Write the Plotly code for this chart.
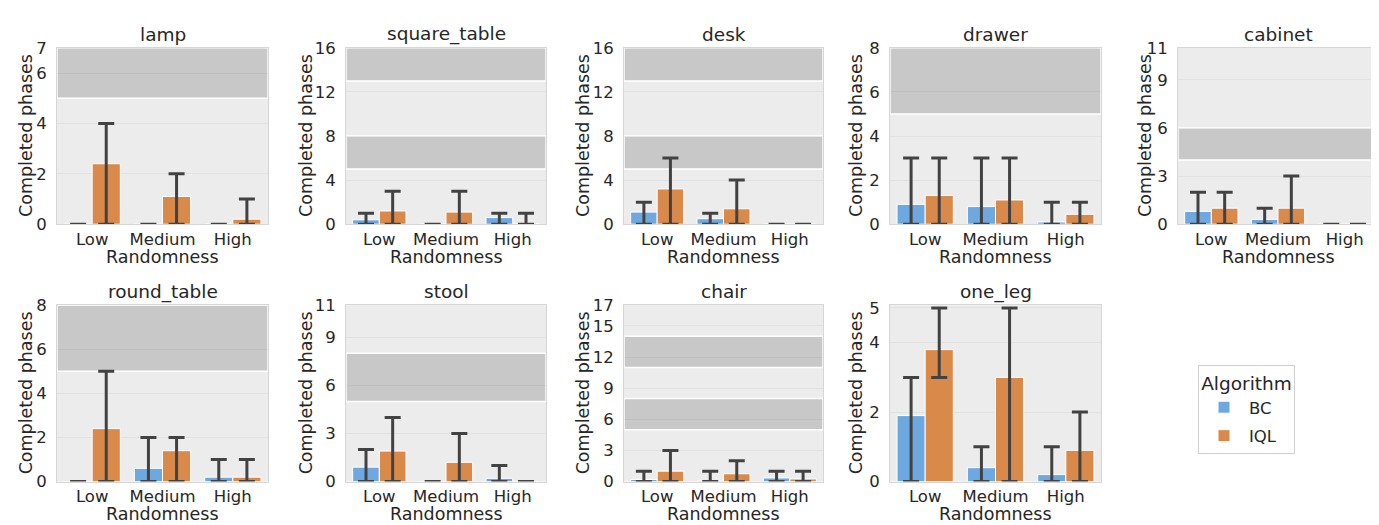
import plotly.graph_objects as go

W, H = 1379, 525

tasks = ["lamp", "square_table", "desk", "drawer", "cabinet",
         "round_table", "stool", "chair", "one_leg"]
levels = ["Low", "Medium", "High"]
algorithms = ["BC", "IQL"]

bc_mean = [[0, 0, 0], [0.4, 0, 0.6], [1.1, 0.5, 0], [0.9, 0.8, 0.1], [0.8, 0.3, 0],
           [0, 0.6, 0.2], [0.9, 0, 0.2], [0.2, 0.05, 0.35], [1.9, 0.4, 0.2]]
bc_min = [[0, 0, 0]] * 9
bc_max = [[0, 0, 0], [1, 0, 1], [2, 1, 0], [3, 3, 1], [2, 1, 0],
          [0, 2, 1], [2, 0, 1], [1, 1, 1], [3, 1, 1]]

iql_mean = [[2.4, 1.1, 0.2], [1.2, 1.1, 0.05], [3.2, 1.4, 0], [1.3, 1.1, 0.45], [1.0, 1.0, 0],
            [2.4, 1.4, 0.2], [1.9, 1.2, 0], [1.0, 0.75, 0.25], [3.8, 3.0, 0.9]]
iql_min = [[0, 0, 0], [0, 0, 0], [0, 0, 0], [0, 0, 0], [0, 0, 0],
           [0, 0, 0], [0, 0, 0], [0, 0, 0], [3, 0, 0]]
iql_max = [[4, 2, 1], [3, 3, 1], [6, 4, 0], [3, 3, 1], [2, 3, 0],
           [5, 2, 1], [4, 3, 0], [3, 2, 1], [5, 5, 2]]

y_max = [7, 16, 16, 8, 11, 8, 11, 17, 5.08]
y_ticks = [[0, 2, 4, 6, 7], [0, 4, 8, 12, 16], [0, 4, 8, 12, 16], [0, 2, 4, 6, 8],
           [0, 3, 6, 9, 11], [0, 2, 4, 6, 8], [0, 3, 6, 9, 11],
           [0, 3, 6, 9, 12, 15, 17], [0, 2, 4, 5]]
bands = [[(5, 7)], [(5, 8), (13, 16)], [(5, 8), (13, 16)], [(5, 8)], [(4, 6)],
         [(5, 8)], [(5, 8)], [(5, 8), (11, 14)], []]

colors = {"BC": "#6EA8E1", "IQL": "#D9894A"}
TXT = "#262626"

# layout geometry (pixels)
cols_px = [(49, 260), (338, 538), (616, 815), (882, 1093), (1170, 1370)]
rows_px = [(32, 215), (299, 482)]
ytitle_x = [18, 298, 575, 848, 1137]

fig = go.Figure()
annotations = []
shapes = []

for i, task in enumerate(tasks):
    r, c = divmod(i, 5)
    n = i + 1
    xa = "x" if n == 1 else f"x{n}"
    ya = "y" if n == 1 else f"y{n}"
    series = [("BC", bc_mean[i], bc_min[i], bc_max[i]),
              ("IQL", iql_mean[i], iql_min[i], iql_max[i])]
    for alg, mean, lo, hi in series:
        fig.add_trace(go.Bar(
            x=levels, y=mean, name=alg, xaxis=xa, yaxis=ya,
            marker=dict(color=colors[alg], line=dict(color="white", width=1)),
            offsetgroup=alg, legendgroup=alg, showlegend=(i == 0),
            error_y=dict(type="data", symmetric=False,
                         array=[h - m for h, m in zip(hi, mean)],
                         arrayminus=[m - l for m, l in zip(mean, lo)],
                         color="#424242", thickness=3, width=8),
        ))
    x0, x1 = cols_px[c]
    y0, y1 = rows_px[r]
    axkey = "xaxis" if n == 1 else f"xaxis{n}"
    aykey = "yaxis" if n == 1 else f"yaxis{n}"
    fig.layout[axkey] = dict(
        domain=[x0 / W, x1 / W], anchor=ya, range=[-0.5, 2.5],
        showgrid=False, ticks="", ticklabelstandoff=0,
        tickfont=dict(size=16.5, color=TXT, family="DejaVu Sans"),
        showline=True, mirror=True, linecolor="#d6d6d6", linewidth=1,
        zeroline=False,
    )
    fig.layout[aykey] = dict(
        domain=[1 - y1 / H, 1 - y0 / H], anchor=xa, range=[0, y_max[i]],
        tickvals=y_ticks[i], ticktext=[str(t) for t in y_ticks[i]],
        showgrid=True, gridcolor="rgba(0,0,0,0.045)", gridwidth=1,
        ticks="", ticklabelstandoff=6,
        tickfont=dict(size=16.5, color=TXT, family="DejaVu Sans"),
        showline=True, mirror=True, linecolor="#d6d6d6", linewidth=1,
        zeroline=False,
    )
    for (b0, b1) in bands[i]:
        shapes.append(dict(type="rect", xref=f"{xa} domain", yref=ya,
                           x0=0, x1=1, y0=b0, y1=b1, layer="below",
                           fillcolor="#c8c8c8", line=dict(color="white", width=1.5)))
    # panel title
    annotations.append(dict(text=task, x=(x0 + x1) / 2 / W, y=1 - (y0 - 14) / H,
                            xref="paper", yref="paper", showarrow=False,
                            xanchor="center", yanchor="middle",
                            font=dict(size=18.5, color=TXT, family="DejaVu Sans")))
    # x axis title
    annotations.append(dict(text="Randomness", x=(x0 + x1) / 2 / W, y=1 - (y1 + 34) / H,
                            xref="paper", yref="paper", showarrow=False,
                            xanchor="center", yanchor="middle",
                            font=dict(size=17.5, color=TXT, family="DejaVu Sans")))
    # y axis title
    annotations.append(dict(text="Completed phases", x=ytitle_x[c] / W,
                            y=1 - (y0 + y1) / 2 / H,
                            xref="paper", yref="paper", showarrow=False, textangle=-90,
                            xanchor="center", yanchor="middle",
                            font=dict(size=17.5, color=TXT, family="DejaVu Sans")))

fig.update_layout(
    width=W, height=H,
    margin=dict(l=0, r=0, t=0, b=0),
    paper_bgcolor="white", plot_bgcolor="#ececec",
    barmode="group", bargap=0.2, bargroupgap=0,
    shapes=shapes, annotations=annotations,
    font=dict(family="DejaVu Sans", color=TXT),
    legend=dict(
        title=dict(text="Algorithm", side="top center",
                   font=dict(size=18.5, color=TXT, family="DejaVu Sans")),
        font=dict(size=16.5, color=TXT, family="DejaVu Sans"),
        x=1190 / W, y=1 - 361 / H, xanchor="left", yanchor="top",
        bgcolor="white", bordercolor="#d0d0d0", borderwidth=1,
        itemwidth=40, tracegroupgap=4,
    ),
)

fig.write_html("out.html")
